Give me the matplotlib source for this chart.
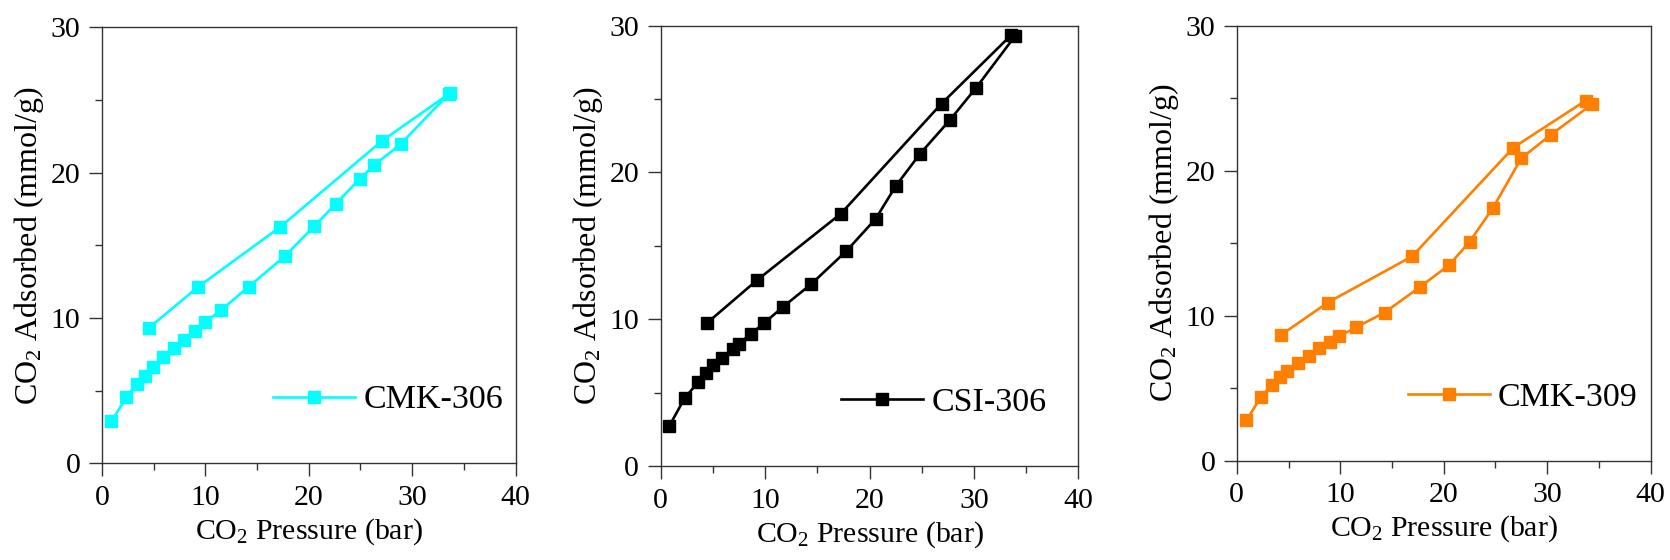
import matplotlib
matplotlib.use("Agg")
import matplotlib.pyplot as plt
from matplotlib.ticker import MultipleLocator

plt.rcParams['font.family'] = 'serif'
plt.rcParams['font.serif'] = ['Liberation Serif', 'DejaVu Serif']
plt.rcParams['mathtext.fontset'] = 'custom'
plt.rcParams['mathtext.rm'] = 'Liberation Serif'
plt.rcParams['mathtext.it'] = 'Liberation Serif:italic'

# CMK-306: adsorption branch then desorption branch
cmk306_p = [0.93, 2.38, 3.35, 4.15, 4.94, 5.91, 6.98, 7.94, 9.02, 9.98, 11.5, 14.2,
            17.7, 20.55, 22.6, 24.97, 26.3, 28.9, 33.57,
            33.7, 27.1, 17.27, 9.33, 4.56]
cmk306_q = [2.88, 4.55, 5.46, 6.02, 6.64, 7.30, 7.92, 8.51, 9.12, 9.69, 10.52, 12.15,
            14.26, 16.33, 17.85, 19.6, 20.5, 21.98, 25.45,
            25.5, 22.2, 16.28, 12.15, 9.32]

# CSI-306
csi306_p = [0.82, 2.29, 3.59, 4.34, 5.03, 5.88, 6.9, 7.49, 8.65, 9.88, 11.69, 14.43,
            17.78, 20.58, 22.53, 24.85, 27.66, 30.22, 33.95,
            33.57, 26.9, 17.26, 9.2, 4.41]
csi306_q = [2.72, 4.62, 5.72, 6.33, 6.86, 7.35, 7.96, 8.35, 9.0, 9.73, 10.83, 12.41,
            14.65, 16.84, 19.1, 21.29, 23.55, 25.79, 29.32,
            29.37, 24.7, 17.2, 12.65, 9.73]

# CMK-309
cmk309_p = [0.93, 2.31, 3.38, 4.21, 4.9, 5.94, 6.97, 7.94, 9.04, 9.9, 11.49, 14.29,
            17.74, 20.53, 22.5, 24.74, 27.5, 30.37, 34.33,
            33.71, 26.74, 16.94, 8.8, 4.31]
cmk309_q = [2.78, 4.38, 5.22, 5.74, 6.21, 6.75, 7.24, 7.76, 8.18, 8.57, 9.19, 10.22,
            12.0, 13.5, 15.1, 17.41, 20.86, 22.49, 24.58,
            24.83, 21.6, 14.09, 10.91, 8.69]

names = ['CMK-306', 'CSI-306', 'CMK-309']
colors = ['#00FFFF', '#000000', '#FF8000']
pressures = [cmk306_p, csi306_p, cmk309_p]
uptakes = [cmk306_q, csi306_q, cmk309_q]

# axes boxes in figure fraction, and where each legend sits
boxes = [[0.0610, 0.1729, 0.2477, 0.7780],
         [0.3956, 0.1677, 0.2502, 0.7864],
         [0.7406, 0.1773, 0.2478, 0.7768]]
legend_x = [0.970, 0.924, 0.969]

fig = plt.figure(figsize=(16.7, 5.6), dpi=100)

for i in range(3):
    ax = fig.add_axes(boxes[i])
    ax.plot(pressures[i], uptakes[i], color=colors[i], lw=1.9, marker='s',
            markersize=9, label=names[i])
    ax.set_xlim(0, 40)
    ax.set_ylim(0, 30)
    ax.xaxis.set_major_locator(MultipleLocator(10))
    ax.xaxis.set_minor_locator(MultipleLocator(5))
    ax.yaxis.set_major_locator(MultipleLocator(10))
    ax.yaxis.set_minor_locator(MultipleLocator(5))
    ax.tick_params(which='major', direction='out', length=9.5, width=1,
                   labelsize=21.5, pad=6, color='#333333')
    ax.tick_params(which='minor', direction='out', length=5, width=1, color='#333333')
    for sp in ax.spines.values():
        sp.set_color('#333333')
        sp.set_linewidth(1)
    ax.set_xlabel('CO$_2$ Pressure (bar)', fontsize=21.5, labelpad=4)
    ax.set_ylabel('CO$_2$ Adsorbed (mmol/g)', fontsize=23, labelpad=3)
    ax.legend(loc='center right', bbox_to_anchor=(legend_x[i], 0.145),
              frameon=False, fontsize=24.5, handlelength=2.4, handletextpad=0.25,
              borderpad=0, borderaxespad=0, markerscale=0.95)

fig.savefig('out.png', dpi=100)
